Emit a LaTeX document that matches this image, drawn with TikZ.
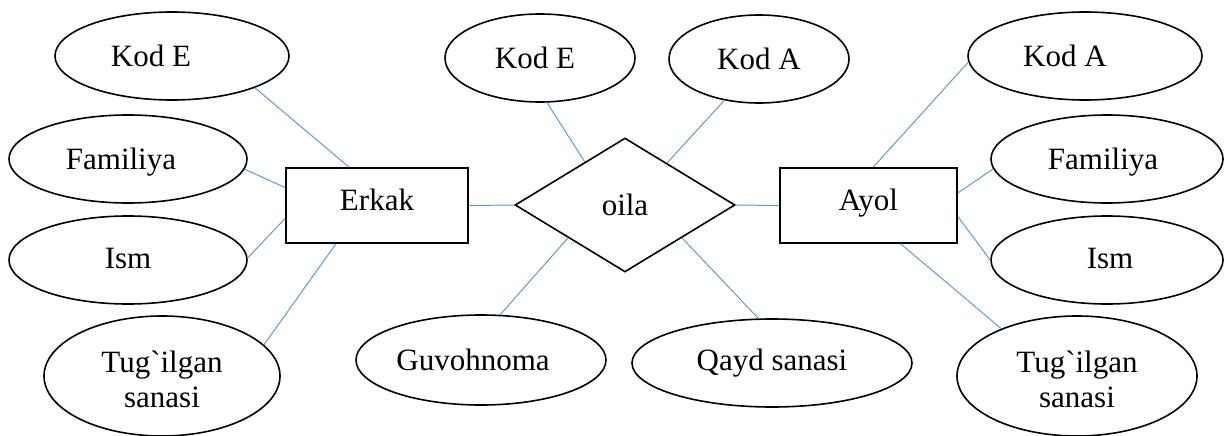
\documentclass[tikz,border=0pt]{standalone}
\usepackage{fontspec}
\newfontfamily\erfont{Liberation Serif}
\usetikzlibrary{shapes.geometric}
\definecolor{linkblue}{RGB}{91,155,213}
\begin{document}
\begin{tikzpicture}[x=1pt,y=1pt,
  attr/.style={ellipse, draw=black, line width=1.6pt, inner sep=0pt},
  ent/.style={rectangle, draw=black, line width=1.6pt, inner sep=0pt, minimum height=75pt},
  rel/.style={diamond, draw=black, line width=1.6pt, inner sep=0pt, minimum width=220pt, minimum height=134pt},
  txt/.style={font=\erfont\fontsize{31}{35}\selectfont, inner sep=0pt, text height=21pt, text depth=0pt},
  txtb/.style={font=\erfont\fontsize{31}{35}\selectfont, inner sep=0pt, align=center},
  link/.style={draw=linkblue, line width=1pt}]
\useasboundingbox (0,0) rectangle (1224,-436);

% left attributes
\node[attr, minimum width=234pt, minimum height=88pt, label={[txt,xshift=-21pt]center:Kod E}] (keL) at (172,-56) {};
\node[attr, minimum width=238pt, minimum height=88pt, label={[txt,xshift=-7pt]center:Familiya}] (faL) at (128,-159) {};
\node[attr, minimum width=238pt, minimum height=88pt, label={[txt,yshift=2pt]center:Ism}] (isL) at (128,-260) {};
\node[attr, minimum width=236pt, minimum height=120pt, label={[txtb,yshift=-3pt]center:{Tug`ilgan\\sanasi}}] (tuL) at (162,-376) {};
\node[ent, minimum width=182pt, label={[txt,yshift=6pt]center:Erkak}] (erkak) at (377,-205.5) {};

% middle
\node[attr, minimum width=190pt, minimum height=88pt, label={[txt,xshift=-5pt]center:Kod E}] (keM) at (540,-58) {};
\node[attr, minimum width=180pt, minimum height=88pt, label={[txt]center:Kod A}] (kaM) at (759,-59) {};
\node[rel, label={[txt]center:oila}] (oila) at (625,-205) {};
\node[attr, minimum width=250pt, minimum height=90pt, label={[txt,xshift=-8pt]center:Guvohnoma}] (guv) at (481,-360) {};
\node[attr, minimum width=280pt, minimum height=88pt, label={[txt,yshift=3pt]center:Qayd sanasi}] (qay) at (772,-363) {};

% right
\node[ent, minimum width=177pt, label={[txt,yshift=6pt]center:Ayol}] (ayol) at (868.5,-205.5) {};
\node[attr, minimum width=234pt, minimum height=88pt, label={[txt,xshift=-20pt]center:Kod A}] (kaR) at (1085,-56) {};
\node[attr, minimum width=232pt, minimum height=88pt, label={[txt,xshift=-4pt]center:Familiya}] (faR) at (1107,-159) {};
\node[attr, minimum width=232pt, minimum height=88pt, label={[txt,xshift=3pt,yshift=2pt]center:Ism}] (isR) at (1107,-260) {};
\node[attr, minimum width=240pt, minimum height=120pt, label={[txtb,yshift=-3pt]center:{Tug`ilgan\\sanasi}}] (tuR) at (1077,-376) {};

% connectors
\draw[link] (keL.-21) -- (erkak.126);
\draw[link] (faL.-5) -- (erkak.169);
\draw[link] (isL.1) -- (erkak.188);
\draw[link] (tuL.17) -- (erkak.223);
\draw[link] (erkak.east) -- (oila.west);
\draw[link] (keM.-81) -- (oila.133);
\draw[link] (kaM.230) -- (oila.45);
\draw[link] (guv.67) -- (oila.210);
\draw[link] (qay.107) -- (oila.-30);
\draw[link] (oila.east) -- (ayol.west);
\draw[link] (kaR.183) -- (ayol.83);
\draw[link] (faR.185) -- (ayol.8.6);
\draw[link] (isR.180) -- (ayol.-7);
\draw[link] (tuR.148) -- (ayol.-50.5);
\end{tikzpicture}
\end{document}
